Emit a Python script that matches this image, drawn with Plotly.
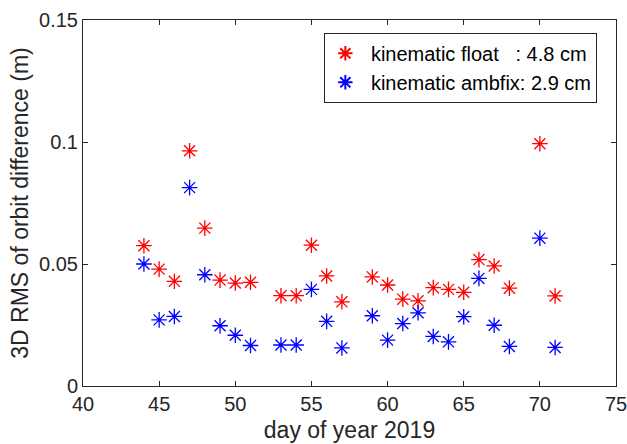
import plotly.graph_objects as go

# Daily 3D RMS of orbit differences (m), day of year 2019
days_float = [44, 45, 46, 47, 48, 49, 50, 51, 53, 54, 55, 56, 57, 59, 60, 61, 62, 63, 64, 65, 66, 67, 68, 70, 71]
rms_float = [0.0575, 0.0479, 0.0429, 0.0964, 0.0647, 0.0434, 0.0422, 0.0425, 0.0370, 0.0370, 0.0577, 0.0451,
             0.0345, 0.0447, 0.0414, 0.0356, 0.0349, 0.0403, 0.0396, 0.0384, 0.0518, 0.0492, 0.0401, 0.0993, 0.0369]

days_fix = [44, 45, 46, 47, 48, 49, 50, 51, 53, 54, 55, 56, 57, 59, 60, 61, 62, 63, 64, 65, 66, 67, 68, 70, 71]
rms_fix = [0.0500, 0.0271, 0.0285, 0.0813, 0.0456, 0.0247, 0.0208, 0.0166, 0.0168, 0.0168, 0.0396, 0.0265,
           0.0156, 0.0288, 0.0188, 0.0256, 0.0300, 0.0203, 0.0181, 0.0284, 0.0441, 0.0249, 0.0162, 0.0606, 0.0158]

label_float = "\u00a0kinematic float\u00a0\u00a0\u00a0: 4.8 cm"
label_fix = "\u00a0kinematic ambfix: 2.9 cm"

x_ticks = [40, 45, 50, 55, 60, 65, 70, 75]
y_ticks = [0, 0.05, 0.1, 0.15]
y_tick_text = ["0", "0.05", "0.1", "0.15"]

axis_color = "#262626"
font_family = "Liberation Sans, Arial, sans-serif"

fig = go.Figure()
fig.add_trace(go.Scatter(
    x=days_float, y=rms_float, mode="markers", name=label_float,
    marker=dict(symbol="asterisk-open", size=13, color="red", line=dict(color="red", width=1.3)),
))
fig.add_trace(go.Scatter(
    x=days_fix, y=rms_fix, mode="markers", name=label_fix,
    marker=dict(symbol="asterisk-open", size=13, color="blue", line=dict(color="blue", width=1.3)),
))

axis_common = dict(
    showgrid=False, zeroline=False, showline=True, linecolor=axis_color, linewidth=1,
    mirror="allticks", ticks="inside", ticklen=5, tickcolor=axis_color,
    tickfont=dict(family=font_family, size=20, color=axis_color),
    ticklabeloverflow="allow", automargin=False,
)

fig.update_xaxes(
    range=[40, 75], tickvals=x_ticks,
    title=dict(text="day of year 2019", font=dict(family=font_family, size=23, color=axis_color), standoff=7),
    **axis_common,
)
fig.update_yaxes(
    range=[0, 0.15], tickvals=y_ticks, ticktext=y_tick_text,
    title=dict(text="3D RMS of orbit difference (m)", font=dict(family=font_family, size=23, color=axis_color), standoff=4),
    **axis_common,
)

fig.update_layout(
    width=627, height=444,
    margin=dict(l=83, r=11, t=20, b=58),
    plot_bgcolor="white", paper_bgcolor="white",
    font=dict(family=font_family, size=20, color="black"),
    legend=dict(
        x=0.965, y=0.965, xanchor="right", yanchor="top",
        bgcolor="white", bordercolor=axis_color, borderwidth=1,
        font=dict(family=font_family, size=20, color="black"),
        itemsizing="constant", tracegroupgap=0,
    ),
    showlegend=True,
)

fig.write_html("out.html")
